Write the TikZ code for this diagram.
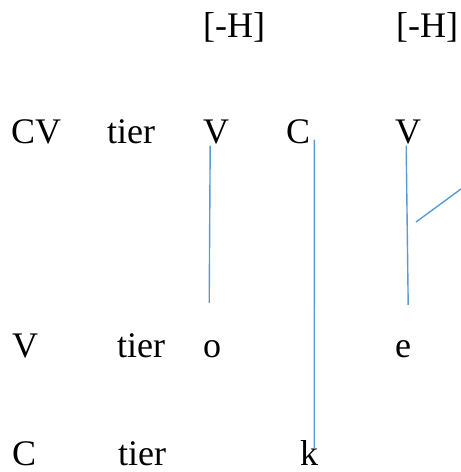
\documentclass[tikz,border=0pt]{standalone}
\usepackage{fontspec}
\setmainfont{Liberation Serif}
\definecolor{linkblue}{RGB}{91,155,213}
\begin{document}
\begin{tikzpicture}[x=1pt, y=-1pt,
    seg/.style={anchor=base west, inner sep=0pt, font=\fontsize{36}{42}\selectfont},
    assoc/.style={draw=linkblue, line width=1.4pt}]
  \useasboundingbox (0,0) rectangle (461,472);
  % features
  \node[seg] (hone) at (203,37) {[-H]};
  \node[seg] (htwo) at (396,37) {[-H]};
  % cv tier
  \node[seg] (cvlab) at (11,143) {CV};
  \node[seg] (cvtier) at (107,143) {tier};
  \node[seg] (vone) at (203,143) {V};
  \node[seg] (cc) at (286,143) {C};
  \node[seg] (vtwo) at (395,143) {V};
  % v tier
  \node[seg] (vlab) at (12,357) {V};
  \node[seg] (vtier) at (117,357) {tier};
  \node[seg] (oo) at (203,357) {o};
  \node[seg] (ee) at (395,357) {e};
  % c tier
  \node[seg] (clab) at (12,465) {C};
  \node[seg] (ctier) at (118,465) {tier};
  \node[seg] (kk) at (300,465) {k};
  % association lines
  \draw[assoc] ([xshift=-6pt,yshift=-2pt]vone.south) -- ([xshift=-3pt,yshift=37pt]oo.north);
  \draw[assoc] ([xshift=4pt,yshift=4pt]cc.south east) -- ([xshift=5pt,yshift=-9pt]kk.north);
  \draw[assoc] ([xshift=-2pt,yshift=-2pt]vtwo.south) -- ([xshift=5pt,yshift=35pt]ee.north);
  \coordinate (foot) at (416,222);
  \coordinate (edge) at (461,189);
  \draw[assoc] (foot) -- (edge);
\end{tikzpicture}
\end{document}
